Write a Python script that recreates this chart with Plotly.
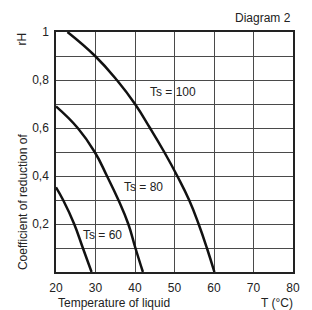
import plotly.graph_objects as go

# Data (temperature of liquid vs coefficient of reduction rH)
t_ts100 = [22.9, 29.9, 35.4, 40.0, 43.8, 47.4, 50.7, 53.7, 56.1, 58.2, 60.1]
r_ts100 = [1.0, 0.9, 0.8, 0.7, 0.6, 0.5, 0.4, 0.3, 0.2, 0.1, 0.0]

t_ts80 = [20.0, 25.5, 29.8, 32.9, 35.8, 38.3, 40.1, 42.0]
r_ts80 = [0.69, 0.6, 0.5, 0.4, 0.3, 0.2, 0.1, 0.0]

t_ts60 = [20.0, 21.8, 24.6, 26.8, 29.0]
r_ts60 = [0.353, 0.3, 0.2, 0.1, 0.0]

x_ticks = [20, 30, 40, 50, 60, 70, 80]
y_ticks = [0.2, 0.4, 0.6, 0.8, 1.0]
y_tick_text = ["0,2", "0,4", "0,6", "0,8", "1"]
y_minor = [0.1, 0.3, 0.5, 0.7, 0.9]

labels = ["Ts = 100", "Ts = 80", "Ts = 60"]
label_x = [43.3, 36.6, 26.4]
label_y = [0.75, 0.353, 0.154]

FONT = "Liberation Sans, Arial, Helvetica, sans-serif"
TXT = "#222222"

fig = go.Figure()
for xs, ys in [(t_ts100, r_ts100), (t_ts80, r_ts80), (t_ts60, r_ts60)]:
    fig.add_trace(go.Scatter(x=xs, y=ys, mode="lines",
                             line=dict(color="#111111", width=2.5, shape="spline", smoothing=1.3),
                             showlegend=False, hoverinfo="skip"))

annotations = []
for txt, x, y in zip(labels, label_x, label_y):
    annotations.append(dict(text=txt, x=x, y=y, xref="x", yref="y", xanchor="left", yanchor="middle",
                            showarrow=False, font=dict(family=FONT, size=12, color=TXT)))

PW, PH = 241.0, 240.0
annotations += [
    dict(text="Diagram 2", x=1.0, y=1 + 14 / PH, xref="paper", yref="paper", xanchor="right",
         yanchor="middle", showarrow=False, font=dict(family=FONT, size=12, color=TXT)),
    dict(text="Temperature of liquid", x=0.0, y=-30.5 / PH, xref="paper", yref="paper", xanchor="left",
         yanchor="middle", showarrow=False, font=dict(family=FONT, size=12, color=TXT)),
    dict(text="T (°C)", x=1.0 + 2 / PW, y=-30.5 / PH, xref="paper", yref="paper", xanchor="right",
         yanchor="middle", showarrow=False, font=dict(family=FONT, size=12, color=TXT)),
    dict(text="Coefficient of reduction of", x=-34 / PW, y=(272 - 201.5) / PH, xref="paper", yref="paper",
         xanchor="center", yanchor="middle", textangle=-90, showarrow=False,
         font=dict(family=FONT, size=12, color=TXT)),
    dict(text="rH", x=-35 / PW, y=(272 - 39) / PH, xref="paper", yref="paper",
         xanchor="center", yanchor="middle", textangle=-90, showarrow=False,
         font=dict(family=FONT, size=12, color=TXT)),
]

# The page body has an 8px margin, so the figure is sized/offset to compensate.
fig.update_layout(
    width=304, height=302,
    margin=dict(l=48, r=15, t=24, b=38, pad=0),
    paper_bgcolor="white", plot_bgcolor="white",
    font=dict(family=FONT, size=12, color=TXT),
    annotations=annotations,
    xaxis=dict(range=[20, 80], tickvals=x_ticks, showgrid=True, gridcolor="#4a4a4a", gridwidth=1.2,
               showline=True, linecolor="#222", linewidth=1.5, mirror=True, zeroline=False,
               ticks="", ticklabelstandoff=4, fixedrange=True),
    yaxis=dict(range=[0, 1], tickvals=y_ticks, ticktext=y_tick_text,
               showgrid=True, gridcolor="#4a4a4a", gridwidth=1.2,
               showline=True, linecolor="#222", linewidth=1.5, mirror=True, zeroline=False,
               ticks="", ticklabelstandoff=3, fixedrange=True,
               minor=dict(tickvals=y_minor, showgrid=True, gridcolor="#4a4a4a", gridwidth=1.2)),
)
fig.write_html("out.html")
